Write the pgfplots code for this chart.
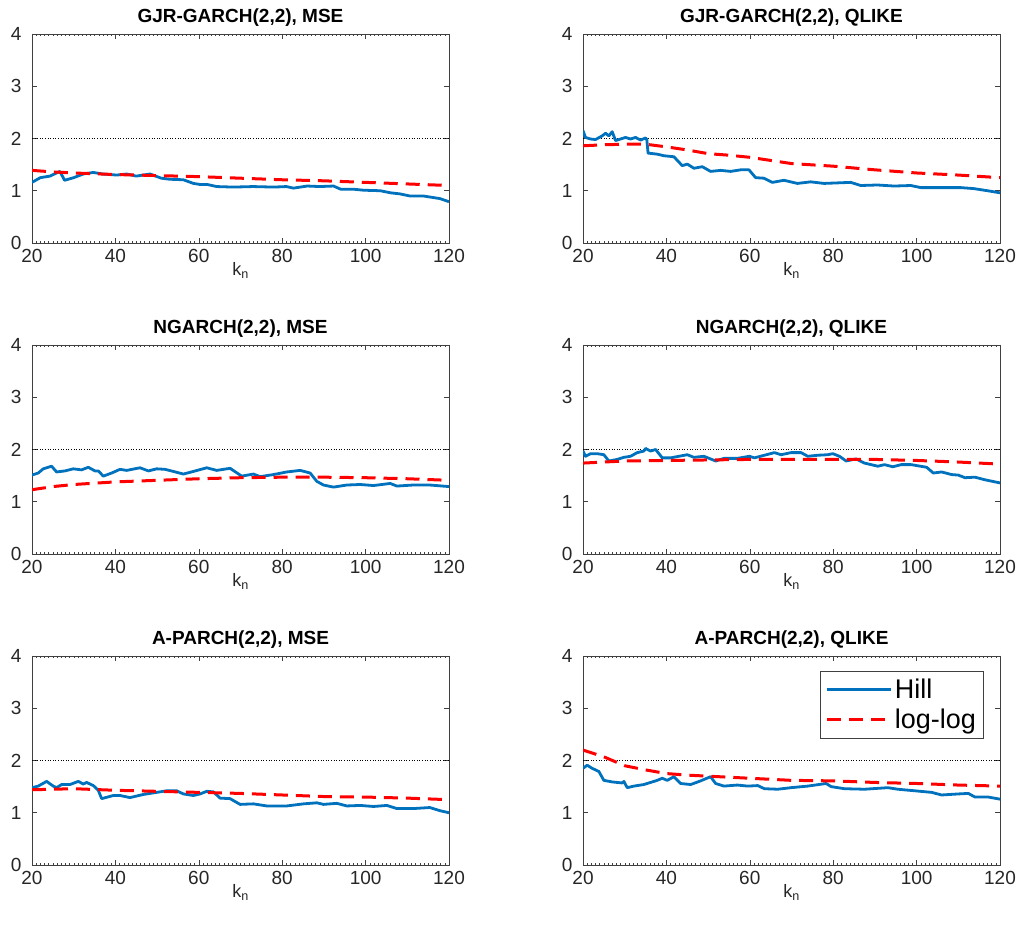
\documentclass[border=0pt]{standalone}
\usepackage{pgfplots}
\pgfplotsset{compat=1.18}
\usepackage{fontspec}
\setmainfont{Liberation Sans}
\definecolor{mblue}{rgb}{0,0.447,0.741}
\definecolor{axgray}{HTML}{404040}
\pgfplotsset{
  panel/.style={
    scale only axis, width=417pt, height=209pt,
    xmin=20, xmax=120, ymin=0, ymax=4,
    xtick={20,40,...,120}, ytick={0,1,2,3,4},
    minor xtick={20,21,...,120},
    tick align=inside, major tick length=5pt, minor tick length=1.6pt,
    axis line style={axgray, line width=0.8pt},
    every tick/.style={axgray, line width=0.6pt},
    every minor tick/.style={axgray, line width=0.4pt},
    ticklabel style={font=\fontsize{19}{19}\selectfont, text=black!85},
    yticklabel style={xshift=-7pt},
    xticklabel style={yshift=-3pt},
    /pgf/number format/assume math mode=true,
    title style={font=\bfseries\fontsize{19}{19}\selectfont, yshift=-2pt},
    xlabel={k\textsubscript{n}},
    xlabel style={font=\fontsize{18}{18}\selectfont, text=black!85, yshift=7pt},
    clip=true,
  },
  hill/.style={mblue, line width=2.8pt, line join=round},
  loglog/.style={red, line width=3pt, dash pattern=on 14pt off 8pt},
  refline/.style={black, line width=0.6pt, dotted, forget plot},
}
\begin{document}
\begin{tikzpicture}
\useasboundingbox (0,0) rectangle (1019pt,933pt);
% ---------- Row 1 left ----------
\begin{axis}[panel, at={(32pt,690pt)}, anchor=south west, title={GJR-GARCH(2,2), MSE}]
\addplot[refline] coordinates {(20,2) (120,2)};
\addplot[hill] coordinates {(20,1.16)(22,1.25)(24.3,1.28)(26.7,1.37)(27.8,1.20)(30,1.25)(32.3,1.32)(34.7,1.35)(37,1.32)(40.3,1.30)(42.7,1.32)(45,1.28)(48.3,1.32)(49,1.30)(51,1.24)(53,1.22)(56.3,1.21)(58.7,1.14)(60.3,1.12)(62,1.12)(64.3,1.08)(68.3,1.07)(73,1.08)(78,1.07)(81,1.08)(82.7,1.05)(86,1.09)(89,1.08)(92.3,1.09)(94,1.03)(97,1.03)(99.5,1.01)(103.5,1.00)(106,0.96)(108.2,0.94)(110.6,0.90)(113.8,0.90)(117.8,0.85)(120,0.79)};
\addplot[loglog] coordinates {(20,1.39)(25,1.36)(30,1.34)(40,1.31)(50,1.29)(60,1.27)(70,1.24)(80,1.21)(90,1.19)(100,1.16)(110,1.13)(120,1.10)};
\end{axis}
% ---------- Row 1 right ----------
\begin{axis}[panel, at={(583pt,690pt)}, anchor=south west, title={GJR-GARCH(2,2), QLIKE}]
\addplot[refline] coordinates {(20,2) (120,2)};
\addplot[hill] coordinates {(20,2.15)(20.6,2.02)(21.8,1.99)(23,1.98)(24.6,2.05)(25.4,2.10)(26.2,2.05)(27,2.13)(27.8,1.96)(29,1.99)(30.2,2.02)(31.4,1.99)(32.6,2.02)(33.8,1.97)(35,2.01)(35.3,1.98)(35.6,1.72)(37.8,1.70)(39.4,1.67)(41.8,1.65)(43.8,1.48)(45,1.51)(46.6,1.43)(48.6,1.46)(50.6,1.37)(53,1.39)(55.4,1.37)(57.8,1.40)(59.8,1.40)(61.4,1.25)(63.4,1.24)(65.4,1.16)(68.2,1.20)(71.4,1.14)(74.6,1.17)(77.8,1.14)(81,1.15)(84.2,1.16)(86.6,1.10)(90.6,1.11)(94.6,1.09)(98.6,1.10)(101,1.06)(105,1.06)(110.6,1.06)(113.8,1.04)(117,1.00)(120,0.96)};
\addplot[loglog] coordinates {(20,1.86)(25,1.88)(30,1.89)(35,1.89)(40,1.84)(45,1.78)(50,1.71)(55,1.68)(60,1.64)(65,1.58)(70,1.52)(80,1.47)(90,1.40)(100,1.34)(110,1.30)(120,1.25)};
\end{axis}
% ---------- Row 2 left ----------
\begin{axis}[panel, at={(32pt,379pt)}, anchor=south west, title={NGARCH(2,2), MSE}]
\addplot[refline] coordinates {(20,2) (120,2)};
\addplot[hill] coordinates {(20,1.51)(21.5,1.55)(22.7,1.63)(24.7,1.68)(25.9,1.57)(27.9,1.59)(29.9,1.63)(31.9,1.61)(33.5,1.66)(35.1,1.59)(35.9,1.59)(37.1,1.49)(39.1,1.55)(41.1,1.62)(42.7,1.60)(45.9,1.65)(47.9,1.59)(49.9,1.63)(51.9,1.62)(53.9,1.58)(56.3,1.53)(58.7,1.58)(61.9,1.65)(64.3,1.60)(67.5,1.64)(70.3,1.49)(73.1,1.53)(74.7,1.48)(77.9,1.52)(81.1,1.57)(84.3,1.60)(86.7,1.55)(88.3,1.39)(89.9,1.32)(92.3,1.28)(95.5,1.32)(98.7,1.33)(101.9,1.31)(105.9,1.35)(107.5,1.30)(111.4,1.32)(115.4,1.32)(120,1.29)};
\addplot[loglog] coordinates {(20,1.23)(25,1.29)(30,1.33)(40,1.38)(50,1.41)(60,1.44)(70,1.46)(80,1.47)(90,1.47)(100,1.46)(110,1.44)(120,1.41)};
\end{axis}
% ---------- Row 2 right ----------
\begin{axis}[panel, at={(583pt,379pt)}, anchor=south west, title={NGARCH(2,2), QLIKE}]
\addplot[refline] coordinates {(20,2) (120,2)};
\addplot[hill] coordinates {(20,1.97)(20.6,1.87)(21.8,1.92)(23.4,1.92)(25,1.90)(26.2,1.78)(28.2,1.81)(29.8,1.85)(31.4,1.87)(33,1.94)(34.6,1.97)(35,2.02)(36.2,1.97)(37.4,2.00)(39,1.84)(41,1.84)(43,1.87)(45,1.90)(46.6,1.85)(49,1.87)(51.8,1.78)(53.8,1.83)(57,1.83)(59.9,1.87)(61.1,1.84)(63.5,1.89)(65.9,1.94)(67.5,1.90)(69.9,1.94)(72.3,1.94)(73.9,1.87)(76.3,1.89)(78.7,1.90)(79.9,1.92)(81.5,1.87)(83.1,1.78)(85.5,1.82)(87.5,1.74)(90.7,1.68)(92.3,1.71)(94.3,1.67)(96.3,1.71)(98.7,1.71)(102.4,1.66)(104,1.55)(106,1.57)(108.4,1.52)(110,1.51)(111.6,1.46)(114,1.47)(116.4,1.42)(120,1.36)};
\addplot[loglog] coordinates {(20,1.74)(30,1.78)(40,1.79)(50,1.80)(60,1.81)(70,1.81)(80,1.81)(90,1.81)(100,1.79)(110,1.76)(120,1.72)};
\end{axis}
% ---------- Row 3 left ----------
\begin{axis}[panel, at={(32pt,68pt)}, anchor=south west, title={A-PARCH(2,2), MSE}]
\addplot[refline] coordinates {(20,2) (120,2)};
\addplot[hill] coordinates {(20,1.48)(21.5,1.51)(23.5,1.60)(25.1,1.51)(25.9,1.48)(27.1,1.54)(29.1,1.54)(31.1,1.60)(32.3,1.55)(33.1,1.58)(34.7,1.52)(35.9,1.43)(36.7,1.27)(39.5,1.33)(41.1,1.33)(43.5,1.29)(46.7,1.35)(49.9,1.39)(52.3,1.42)(54.7,1.42)(56.3,1.36)(58.7,1.33)(60.3,1.36)(61.9,1.41)(63.5,1.40)(65.1,1.28)(67.5,1.27)(69.9,1.16)(73.1,1.17)(76.3,1.13)(81.1,1.13)(85.1,1.17)(88.3,1.19)(89.9,1.16)(93.1,1.18)(95.5,1.13)(98.7,1.14)(101.9,1.12)(105.1,1.14)(107.5,1.08)(111.4,1.08)(115.4,1.10)(117.8,1.04)(120,1.00)};
\addplot[loglog] coordinates {(20,1.44)(30,1.46)(40,1.43)(50,1.41)(60,1.39)(70,1.37)(80,1.34)(90,1.31)(100,1.30)(110,1.28)(120,1.25)};
\end{axis}
% ---------- Row 3 right ----------
\begin{axis}[panel, at={(583pt,68pt)}, anchor=south west, title={A-PARCH(2,2), QLIKE},
  legend style={at={(rel axis cs:0.96,0.93)}, anchor=north east, draw=axgray, line width=0.8pt,
    font=\fontsize{27}{29}\selectfont, inner xsep=5pt, inner ysep=6pt,
    row sep=5pt},
  legend cell align=left,
  legend image code/.code={\draw[#1] (0pt,0pt) -- (64pt,0pt);}]
\addplot[refline] coordinates {(20,2) (120,2)};
\addplot[hill] coordinates {(20,1.85)(21,1.91)(22.2,1.85)(23.8,1.79)(25,1.62)(27,1.59)(29.4,1.57)(29.8,1.60)(30.6,1.48)(32.2,1.51)(34.6,1.54)(37.8,1.62)(39,1.66)(40.2,1.62)(41.8,1.69)(43.4,1.56)(45.8,1.54)(48.2,1.61)(50.6,1.69)(51.8,1.56)(53.8,1.51)(57,1.53)(59.5,1.51)(61.9,1.52)(63.5,1.46)(66.7,1.45)(69.9,1.48)(73.9,1.51)(78.3,1.56)(79.5,1.50)(82.7,1.46)(87.5,1.45)(93.1,1.48)(95.5,1.45)(99.6,1.42)(103.6,1.39)(106,1.34)(110,1.36)(112.4,1.37)(114,1.30)(117.2,1.30)(120,1.26)};
\addlegendentry{Hill}
\addplot[loglog] coordinates {(20,2.20)(25,2.07)(30,1.90)(35,1.82)(40,1.75)(45,1.72)(50,1.70)(60,1.66)(70,1.62)(80,1.61)(90,1.58)(100,1.56)(110,1.53)(120,1.51)};
\addlegendentry{log-log}
\end{axis}
\end{tikzpicture}
\end{document}
